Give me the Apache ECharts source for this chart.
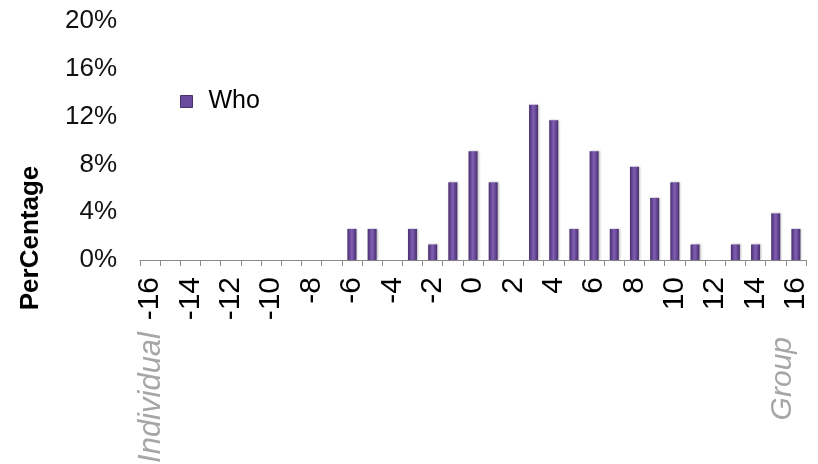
<!DOCTYPE html>
<html>
<head>
<meta charset="utf-8">
<script src="https://cdn.jsdelivr.net/npm/echarts@6/dist/echarts.min.js"></script>
<style>
  html, body { margin: 0; padding: 0; background: #ffffff; }
  #chart { width: 818px; height: 464px; }
</style>
</head>
<body>
<div id="chart"></div>
<script>
// Score categories from -16 (individual) to 16 (group)
var categories = ['-16','-15','-14','-13','-12','-11','-10','-9','-8','-7',
                  '-6','-5','-4','-3','-2','-1','0','1','2','3','4','5',
                  '6','7','8','9','10','11','12','13','14','15','16'];

// Share of responses per score, in percent
var whoValues = [0, 0, 0, 0, 0, 0, 0, 0, 0, 0,
                 2.6, 2.6, 0, 2.6, 1.3, 6.5, 9.1, 6.5, 0, 13.0, 11.7, 2.6,
                 9.1, 2.6, 7.8, 5.2, 6.5, 1.3, 0, 1.3, 1.3, 3.9, 2.6];

var yTicks = { min: 0, max: 20, interval: 4 };
var seriesName = 'Who';
var yTitle = 'PerCentage';
var leftEnd = 'Individual';
var rightEnd = 'Group';

var FONT = '"Liberation Sans", Arial, sans-serif';

// Cylinder-like shading across each bar
var barFill = new echarts.graphic.LinearGradient(0, 0, 1, 0, [
  { offset: 0, color: '#4a2d6e' },
  { offset: 0.45, color: '#7e5db2' },
  { offset: 0.55, color: '#7a59ad' },
  { offset: 1, color: '#482c6b' }
]);

var chart = echarts.init(document.getElementById('chart'), null, { renderer: 'canvas' });

chart.setOption({
  backgroundColor: '#ffffff',
  animation: false,
  grid: { left: 140, right: 12, top: 21, bottom: 204, containLabel: false },
  legend: {
    show: true,
    left: 175,
    top: 84,
    padding: 5,
    itemWidth: 12,
    itemHeight: 12,
    icon: 'rect',
    data: [seriesName],
    itemStyle: {
      color: '#6a4a9c',
      borderColor: '#4a2f72',
      borderWidth: 1,
      shadowBlur: 0,
      shadowOffsetX: 0
    },
    textStyle: {
      fontFamily: FONT,
      fontSize: 25,
      color: '#000000',
      padding: [0, 0, 0, 11]
    }
  },
  xAxis: {
    type: 'category',
    data: categories,
    boundaryGap: true,
    axisLine: { show: true, lineStyle: { color: '#8c8c8c', width: 1 } },
    axisTick: { show: true, interval: 0, length: 6, alignWithLabel: false, lineStyle: { color: '#8c8c8c' } },
    axisLabel: {
      interval: 1,
      rotate: 90,
      margin: 17,
      fontFamily: FONT,
      fontSize: 30,
      color: '#000000'
    },
    splitLine: { show: false }
  },
  yAxis: {
    type: 'value',
    min: yTicks.min,
    max: yTicks.max,
    interval: yTicks.interval,
    axisLine: { show: false },
    axisTick: { show: false },
    splitLine: { show: false },
    axisLabel: {
      margin: 23,
      fontFamily: FONT,
      fontSize: 26,
      color: '#111111',
      formatter: '{value}%'
    }
  },
  series: [{
    name: seriesName,
    type: 'bar',
    data: whoValues,
    barWidth: 9,
    itemStyle: {
      color: barFill,
      shadowColor: 'rgba(0,0,0,0.25)',
      shadowBlur: 2,
      shadowOffsetX: 1,
      shadowOffsetY: 0
    }
  }],
  graphic: [
    {
      type: 'text',
      x: 31,
      y: 238,
      rotation: Math.PI / 2,
      style: {
        text: yTitle,
        fontFamily: FONT,
        fontWeight: 'bold',
        fontSize: 26,
        fill: '#000000',
        align: 'center',
        verticalAlign: 'middle'
      }
    },
    {
      type: 'text',
      x: 151,
      y: 332,
      rotation: Math.PI / 2,
      style: {
        text: leftEnd,
        fontFamily: FONT,
        fontStyle: 'italic',
        fontSize: 31,
        fill: '#a6a6a6',
        align: 'right',
        verticalAlign: 'middle'
      }
    },
    {
      type: 'text',
      x: 783,
      y: 337,
      rotation: Math.PI / 2,
      style: {
        text: rightEnd,
        fontFamily: FONT,
        fontStyle: 'italic',
        fontSize: 30,
        fill: '#a6a6a6',
        align: 'right',
        verticalAlign: 'middle'
      }
    }
  ]
});
</script>
</body>
</html>
